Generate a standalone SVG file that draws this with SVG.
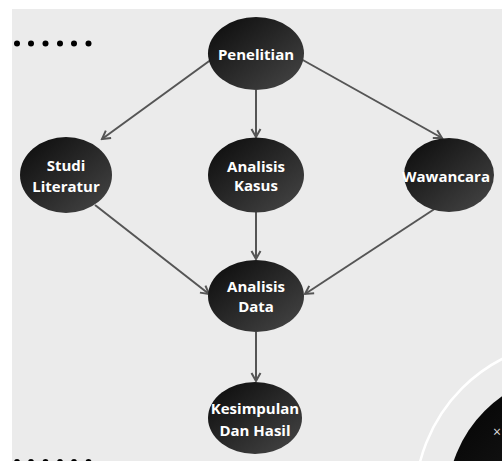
<svg xmlns="http://www.w3.org/2000/svg" width="502" height="461" viewBox="0 0 502 461">
<defs>
<linearGradient id="g" x1="0" y1="0" x2="1" y2="1">
<stop offset="0" stop-color="#0a0a0a"/>
<stop offset="1" stop-color="#474747"/>
</linearGradient>
<linearGradient id="g2" x1="0" y1="0" x2="1" y2="1">
<stop offset="0" stop-color="#000"/>
<stop offset="1" stop-color="#3a3a3a"/>
</linearGradient>
<marker id="arr" viewBox="0 0 12 12" refX="10" refY="6" markerWidth="12" markerHeight="12" markerUnits="userSpaceOnUse" orient="auto">
<path d="M2,1.5 L10,6 L2,10.5" fill="none" stroke="#555" stroke-width="2"/>
</marker>
</defs>
<style>
.n{fill:url(#g)}
.t{font-family:"Open Sans","Liberation Sans",sans-serif;font-weight:bold;font-size:15px;fill:#fff;text-anchor:middle}
.e{stroke:#555;stroke-width:2;fill:none;marker-end:url(#arr)}
.d{fill:#000}
</style>
<rect width="502" height="461" fill="#fff"/>
<rect x="12" y="9" width="490" height="452" fill="#ebebeb"/>
<g id="dots">
<circle class="d" cx="17" cy="43.5" r="3"/><circle class="d" cx="31" cy="43.5" r="3"/><circle class="d" cx="45.5" cy="43.5" r="3"/><circle class="d" cx="60" cy="43.5" r="3"/><circle class="d" cx="74" cy="43.5" r="3"/><circle class="d" cx="88.5" cy="43.5" r="3"/>
<circle class="d" cx="17" cy="462" r="3"/><circle class="d" cx="31" cy="462" r="3"/><circle class="d" cx="45.5" cy="462" r="3"/><circle class="d" cx="60" cy="462" r="3"/><circle class="d" cx="74" cy="462" r="3"/><circle class="d" cx="88.5" cy="462" r="3"/>
</g>
<g id="corner">
<circle cx="576" cy="502" r="161" fill="none" stroke="#fff" stroke-width="2.5"/>
<circle cx="576" cy="502" r="129" fill="url(#g2)"/>
<text x="493" y="437" font-family="'Open Sans','Liberation Sans',sans-serif" font-size="14" fill="#ddd">×</text>
</g>
<g id="connectors">
<line class="e" x1="212" y1="59" x2="102" y2="139"/>
<line class="e" x1="256" y1="90" x2="256" y2="137"/>
<line class="e" x1="301" y1="59" x2="442" y2="138"/>
<line class="e" x1="95" y1="205" x2="209" y2="294"/>
<line class="e" x1="256" y1="212" x2="256" y2="259"/>
<line class="e" x1="436" y1="208" x2="305" y2="294"/>
<line class="e" x1="256" y1="332" x2="256" y2="381"/>
</g>
<g id="penelitian"><ellipse class="n" cx="256" cy="53.5" rx="48" ry="36.5"/><text class="t" x="256" y="60">Penelitian</text></g>
<g id="studi"><ellipse class="n" cx="66" cy="175" rx="46" ry="38"/><text class="t" x="66" y="171">Studi</text><text class="t" x="66" y="192">Literatur</text></g>
<g id="kasus"><ellipse class="n" cx="256" cy="175" rx="48" ry="37.5"/><text class="t" x="256" y="172">Analisis</text><text class="t" x="256" y="191">Kasus</text></g>
<g id="wawancara"><ellipse class="n" cx="449" cy="175" rx="45" ry="37"/><text class="t" x="446" y="182">Wawancara</text></g>
<g id="data"><ellipse class="n" cx="256" cy="296" rx="48" ry="36"/><text class="t" x="256" y="292">Analisis</text><text class="t" x="256" y="312">Data</text></g>
<g id="kesimpulan"><ellipse class="n" cx="255" cy="418" rx="47" ry="36"/><text class="t" x="255" y="414">Kesimpulan</text><text class="t" x="255" y="436">Dan Hasil</text></g>
</svg>
